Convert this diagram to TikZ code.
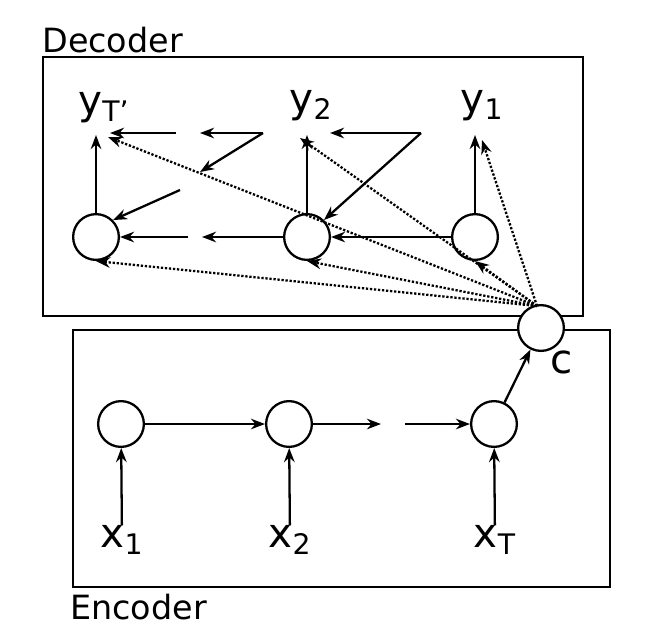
\documentclass[tikz,border=0pt]{standalone}
\usepackage{fontspec}
\setmainfont{DejaVu Sans}
\usetikzlibrary{arrows.meta}
\tikzset{
    cell/.style={circle, draw, line width=1.3pt, minimum size=46pt*0.566, inner sep=0pt},
    lbl/.style={inner sep=0pt, font=\fontsize{19}{22}\selectfont},
    var/.style={inner sep=0pt, font=\fontsize{23}{26}\selectfont},
    arr/.style={draw, line width=1.3pt, -{Stealth[length=8pt,width=6pt]}},
    dot/.style={draw, line width=1.3pt, densely dotted, -{Stealth[length=8pt,width=6pt]}}
}
\begin{document}
\begin{tikzpicture}[x=0.02cm, y=-0.02cm]
    \useasboundingbox (0,0) rectangle (645,643);

    % boxes
    \draw[line width=1.3pt] (43,57) rectangle (583,316);
    \draw[line width=1.3pt] (73,330) rectangle (610,587);
    \node[lbl, anchor=west] (dec) at (42,40) {Decoder};
    \node[lbl, anchor=west] (enc) at (70,607) {Encoder};

    % encoder
    \begin{scope}[every node/.style={cell}]
        \node (e1) at (121,424) {};
        \node (e2) at (289,424) {};
        \node (e3) at (494,424) {};
        \node[fill=white] (c) at (541,328) {};
    \end{scope}
    \node[var] (x1) at (122,540) {x\textsubscript{1}};
    \node[var] (x2) at (290,540) {x\textsubscript{2}};
    \node[var] (xT) at (495,540) {x\textsubscript{T}};
    \node[var] (clbl) at (562,362) {c};
    \path[arr] (x1) -- (e1);
    \path[arr] (x2) -- (e2);
    \path[arr] (xT) -- (e3);
    \coordinate (g1) at (381,424);
    \coordinate (g2) at (405,424);
    \path[arr] (e1) -- (e2);
    \path[arr] (e2) -- (g1);
    \path[arr] (g2) -- (e3);
    \path[arr] (e3) -- (c);

    % decoder
    \begin{scope}[every node/.style={cell}]
        \node (d3) at (96,237) {};
        \node (d2) at (307,237) {};
        \node (d1) at (475,237) {};
    \end{scope}
    \node[var] (yT) at (104,108) {y\textsubscript{T'}};
    \node[var] (y2) at (311,106) {y\textsubscript{2}};
    \node[var] (y1) at (482,106) {y\textsubscript{1}};
    \path[arr] (d3) -- (d3 |- 0,135);
    \path[arr] (d2) -- (d2 |- 0,135);
    \path[arr] (d1) -- (d1 |- 0,135);

    \coordinate (t1) at (421,133);
    \coordinate (t2) at (263,133);
    \coordinate (ha) at (200,133);
    \coordinate (hb) at (176,133);
    \coordinate (da) at (200,172);
    \coordinate (db) at (180,190);
    \coordinate (ba) at (202,237);
    \coordinate (bb) at (188,237);
    \path[arr] (d1) -- (d2);
    \path[arr] (d2) -- (ba);
    \path[arr] (bb) -- (d3);
    \path[arr] (t1) -- (330,133);
    \path[arr] (t1) -- (d2.north east);
    \path[arr] (t2) -- (ha);
    \path[arr] (t2) -- (da);
    \path[arr] (hb) -- (110,133);
    \path[arr] (db) -- (d3.north east);

    % context
    \coordinate (cs) at (537,306);
    \path[dot] (cs) -- (108,137);
    \path[dot] (cs) -- (300,138);
    \path[dot] (cs) -- (482,140);
    \path[dot] (cs) -- (d3.south);
    \path[dot] (cs) -- (d2.south);
    \path[dot] (cs) -- (d1.south);
\end{tikzpicture}
\end{document}
